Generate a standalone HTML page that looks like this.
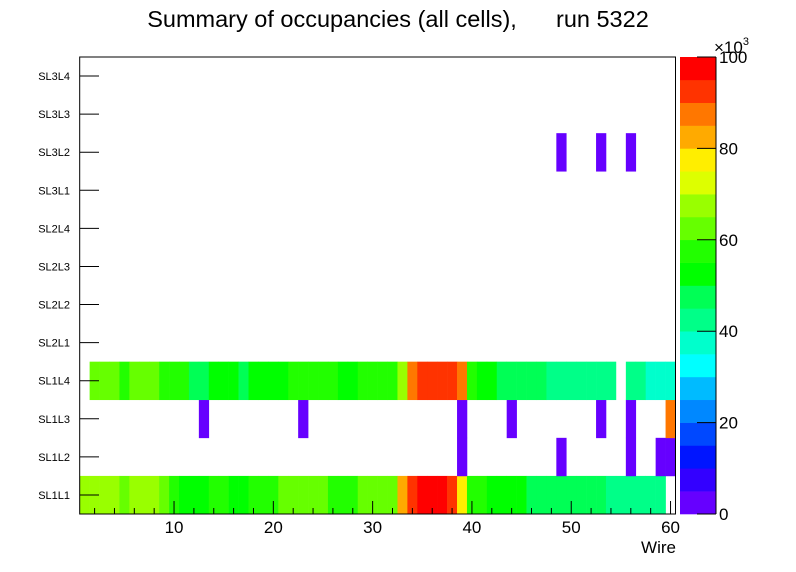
<!DOCTYPE html>
<html><head><meta charset="utf-8"><style>
body{margin:0;background:#fff;}
svg{display:block;font-family:"Liberation Sans",sans-serif;}
</style></head><body>
<svg id="c" width="796" height="572" viewBox="0 0 796 572">
<text x="398" y="27" text-anchor="middle" font-size="23.5" style="white-space:pre">Summary of occupancies (all cells),      run 5322</text>
<g id="cells"></g><g id="axes"></g><g id="pal"></g>
<text x="676" y="553" font-size="17" text-anchor="end">Wire</text>
<text x="714" y="53" font-size="17">×10<tspan dy="-8" font-size="11">3</tspan></text>
</svg>
<script>
const layers=["SL1L1","SL1L2","SL1L3","SL1L4","SL2L1","SL2L2","SL2L3","SL2L4","SL3L1","SL3L2","SL3L3","SL3L4"];
// occupancy levels (x1000 counts) per wire 1..60, null = empty
const rowSL1L1=[67,67,67,67,62,67,67,67,62,57,52,52,52,57,57,52,52,57,57,57,62,62,62,62,62,57,57,57,62,62,62,62,82,92,97,97,97,92,77,57,57,52,52,52,52,47,47,47,47,47,47,47,47,42,42,42,42,42,42,null];
const rowSL1L4=[null,62,62,62,57,62,62,62,57,57,57,47,47,52,52,52,47,52,52,52,52,57,57,57,57,57,52,52,57,57,57,57,67,87,92,92,92,92,87,57,52,52,47,47,47,47,47,42,42,42,42,42,42,42,null,42,42,37,37,37];
const sparseSL1L3={13:1,23:1,39:1,44:1,53:1,56:1,60:87};
const sparseSL1L2={39:1,49:1,56:1,59:1,60:1};
const sparseSL3L2={49:1,53:1,56:1};
const xTicks=[10,20,30,40,50,60];
const zTicks=[0,20,40,60,80,100];
const palette=["#6600ff","#3300ff","#0015ff","#0048ff","#0088ff","#00bbff","#00ffff","#00ffcc","#00ff88","#00ff55","#00ff00","#22ff00","#66ff00","#99ff00","#ddff00","#ffee00","#ffaa00","#ff7700","#ff3300","#ff0000"];
const NS="http://www.w3.org/2000/svg";
const X0=79.7,X1=675.5,Y0=57,Y1=514;
const xs=w=>X0+(w-0.5)*(X1-X0)/60;
const rh=(Y1-Y0)/12;
const ys=r=>Y1-(r+1)*rh;
const col=v=>palette[Math.min(19,Math.floor(v/5))];
function mk(t,a,p){const e=document.createElementNS(NS,t);for(const k in a)e.setAttribute(k,a[k]);p.appendChild(e);return e;}
const cells=document.getElementById('cells');
function row(r,vals){vals.forEach((v,i)=>{if(v==null)return;const w=i+1;
const e=mk('rect',{x:xs(w-0.5),y:ys(r),width:xs(w+0.5)-xs(w-0.5)+0.3,height:rh+0.3,fill:col(v)},cells);

});}
function sparse(r,o){const a=new Array(60).fill(null);for(const k in o)a[k-1]=o[k];row(r,a);}
row(0,rowSL1L1);sparse(1,sparseSL1L2);sparse(2,sparseSL1L3);row(3,rowSL1L4);sparse(9,sparseSL3L2);
const ax=document.getElementById('axes');
const fr=mk('rect',{x:X0,y:Y0,width:X1-X0,height:Y1-Y0,fill:'none',stroke:'#000','stroke-width':1},ax);

layers.forEach((l,r)=>{const yc=ys(r)+rh/2;
mk('line',{x1:X0,x2:99,y1:yc,y2:yc,stroke:'#000'},ax);
const t=mk('text',{x:70,y:yc+4,'font-size':11,'text-anchor':'end'},ax);t.textContent=l;
});
for(let w=2;w<=60;w+=2){const big=w%10==0;mk('line',{x1:xs(w),x2:xs(w),y1:Y1,y2:Y1-(big?13:6),stroke:'#000'},ax);}
xTicks.forEach(v=>{const t=mk('text',{x:xs(v),y:533,'font-size':17,'text-anchor':'middle'},ax);t.textContent=v;
});
const pal=document.getElementById('pal');const ph=(Y1-Y0)/20;
palette.forEach((c,i)=>{const e=mk('rect',{x:680,y:Y1-(i+1)*ph,width:36,height:ph+0.3,fill:c},pal);
});
mk('line',{x1:716,x2:716,y1:Y0,y2:Y1,stroke:'#000'},pal);
zTicks.forEach(v=>{const y=Y1-v/100*(Y1-Y0);mk('line',{x1:697,x2:716,y1:y,y2:y,stroke:'#000'},pal);
const t=mk('text',{x:719,y:y+6,'font-size':17},pal);t.textContent=v;
});
</script>
</body></html>
